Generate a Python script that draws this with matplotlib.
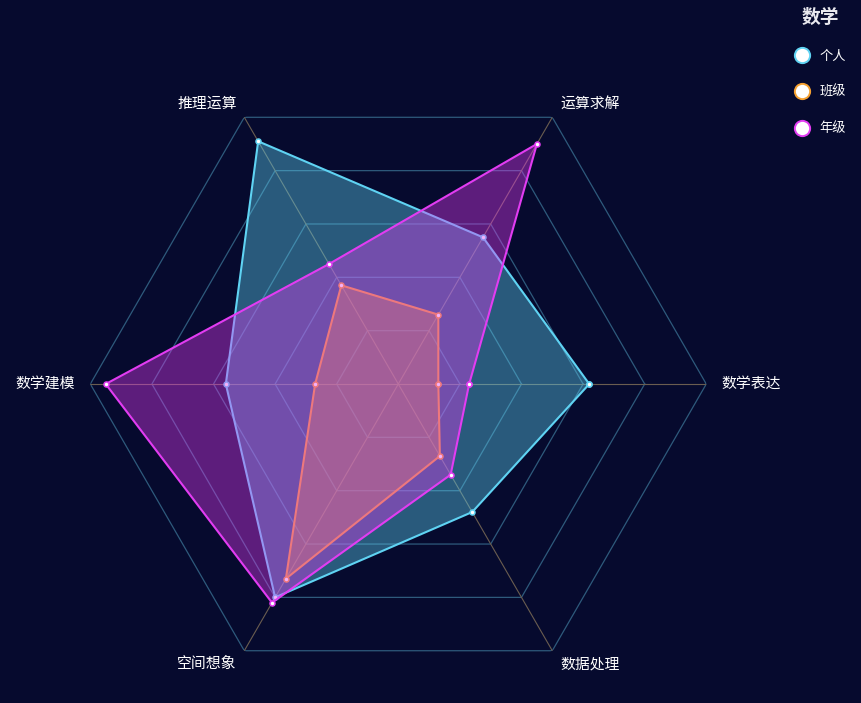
import matplotlib.pyplot as plt
import numpy as np
from matplotlib.lines import Line2D

plt.rcParams['font.family'] = ['Noto Sans CJK SC', 'DejaVu Sans']

# data
categories = ['数学表达', '运算求解', '推理运算', '数学建模', '空间想象', '数据处理']
personal = [62, 55, 91, 56, 80, 48]
klass = [13, 26, 37, 27, 73, 27]
grade = [23, 90, 45, 95, 82, 34]
series_names = ['个人', '班级', '年级']
levels = [20, 40, 60, 80, 100]

bg = '#060a2e'
colors = ['#5fd3f3', '#f5a030', '#e23cf2']
grid_color = '#2e5a7c'
spoke_color = '#6a5d50'

fig = plt.figure(figsize=(8.61, 7.03), dpi=100, facecolor=bg)
ax = fig.add_axes([0.1049, 0.01565, 0.7154, 0.8762], projection='polar')
ax.set_facecolor('none')
ax.set_ylim(0, 100)
ax.grid(False)
ax.set_xticks([])
ax.set_yticks([])
ax.spines['polar'].set_visible(False)

angles = np.deg2rad(np.arange(len(categories)) * 60)
closed = np.append(angles, angles[0])

# hexagon rings and spokes
for lv in levels:
    ax.plot(closed, [lv] * len(closed), color=grid_color, lw=0.9, zorder=1)
for a in angles:
    ax.plot([a, a], [0, levels[-1]], color=spoke_color, lw=0.8, zorder=1)

for i, (name, vals) in enumerate(zip(series_names, [personal, klass, grade])):
    v = vals + vals[:1]
    c = colors[i]
    ax.fill(closed, v, color=c, alpha=0.4, lw=0, zorder=2 + 2 * i)
    ax.plot(closed, v, color=c, lw=1.5, zorder=3 + 2 * i,
            marker='o', ms=3.6, mfc='white', mec=c, mew=1.1)

# axis names
for a, name in zip(angles, categories):
    cs = np.cos(a)
    ha = 'left' if cs > 0.1 else ('right' if cs < -0.1 else 'center')
    ax.text(a, 105, name, ha=ha, va='center', color='white', fontsize=10.7)

handles = [Line2D([], [], ls='', marker='o', ms=11, mfc='white', mec=c, mew=1.4)
           for c in colors]
leg = fig.legend(handles, series_names, title='数学', loc='upper left',
                 bbox_to_anchor=(788.5 / 861, 1 - 1 / 703), frameon=False,
                 fontsize=9.5, labelcolor='white', handlelength=1.0,
                 handletextpad=0.87, borderpad=0, labelspacing=1.75,
                 title_fontproperties={'weight': 'bold', 'size': 13.5})
leg.get_title().set_color('#e8e8ee')

fig.savefig('out.png', dpi=100, facecolor=bg)
